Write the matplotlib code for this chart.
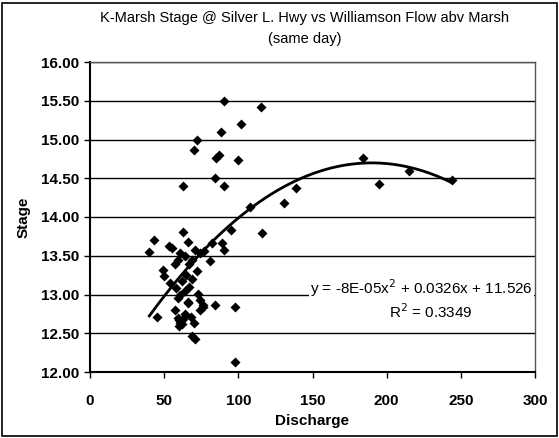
import numpy as np
import matplotlib
matplotlib.use("Agg")
import matplotlib.pyplot as plt

discharge = [90, 115, 102, 88, 72, 70, 85, 87, 100, 84, 63, 90,
             184, 215, 195, 244, 139, 131, 116, 108,
             95, 89, 90, 82, 81, 63, 43, 40, 53, 55, 66, 61, 64, 74, 69, 71, 67, 77, 59, 57,
             49, 50, 54, 58, 62, 64, 59, 66, 73, 74, 67, 69, 65, 61, 72,
             45, 57, 60, 61, 59, 68, 70, 69, 71, 76, 74, 84, 98, 98, 76,
             62, 63, 64, 66, 60]
stage = [15.50, 15.42, 15.20, 15.10, 14.99, 14.86, 14.76, 14.80, 14.74, 14.50, 14.40, 14.40,
         14.76, 14.60, 14.43, 14.48, 14.37, 14.18, 13.80, 14.13,
         13.83, 13.67, 13.57, 13.66, 13.43, 13.81, 13.70, 13.55, 13.62, 13.60, 13.68, 13.53, 13.50, 13.54, 13.45, 13.58, 13.40, 13.56, 13.45, 13.40,
         13.32, 13.24, 13.15, 13.08, 13.17, 13.04, 12.95, 12.89, 13.01, 12.93, 13.10, 13.20, 13.25, 13.00, 13.30,
         12.71, 12.80, 12.67, 12.63, 12.70, 12.71, 12.63, 12.46, 12.43, 12.87, 12.80, 12.87, 12.84, 12.13, 12.84,
         12.62, 12.68, 12.75, 12.90, 12.60]

title = "K-Marsh Stage @ Silver L. Hwy vs Williamson Flow abv Marsh\n(same day)"
eq_text = "y = -8E-05x$^2$ + 0.0326x + 11.526"
r2_text = "R$^2$ = 0.3349"

plt.rcParams['font.family'] = ['Liberation Sans', 'DejaVu Sans']

fig = plt.figure(figsize=(5.59, 4.38), dpi=100)
fig.patches.append(plt.Rectangle((0.004, 0.004), 0.992, 0.99, transform=fig.transFigure,
                                 fill=False, edgecolor='black', linewidth=1.2))
ax = fig.add_axes([90/559, 1-372/438, (535-90)/559, (372-62)/438])

x = np.array(discharge, dtype=float)
y = np.array(stage, dtype=float)
ax.scatter(x, y, marker='D', s=26, color='black', zorder=3, linewidths=0)

coef = np.polyfit(x, y, 2)
xs = np.linspace(x.min(), x.max(), 200)
ax.plot(xs, np.polyval(coef, xs), color='black', lw=2, zorder=4)

ax.set_xlim(0, 300)
ax.set_ylim(12, 16)
ax.set_xticks(np.arange(0, 301, 50))
ax.set_yticks(np.arange(12, 16.01, 0.5))
ax.set_yticklabels([f"{v:.2f}" for v in np.arange(12, 16.01, 0.5)])
ax.yaxis.grid(True, color='black', lw=1)
ax.set_axisbelow(True)
for s in ['top', 'right']:
    ax.spines[s].set_color('#555555')
    ax.spines[s].set_linewidth(1)
for s in ['left', 'bottom']:
    ax.spines[s].set_linewidth(1.5)
ax.tick_params(axis='both', labelsize=11, length=4, width=1, direction='out')
ax.tick_params(axis='x', pad=12)
for lab in ax.get_xticklabels() + ax.get_yticklabels():
    lab.set_fontweight('bold')
ax.set_xlabel("Discharge", fontsize=11, fontweight='bold', labelpad=4)
ax.set_ylabel("Stage", fontsize=11, fontweight='bold', labelpad=8)

fig.text(0.545, 0.975, title, ha='center', va='top', fontsize=10.5, linespacing=1.6)

ax.text(0.995, 0.27, eq_text, transform=ax.transAxes, ha='right', va='center', fontsize=11,
        bbox=dict(facecolor='white', edgecolor='none', pad=0.5), zorder=5)
ax.text(0.765, 0.195, r2_text, transform=ax.transAxes, ha='center', va='center', fontsize=11, zorder=5)

fig.savefig("out.png", dpi=100)
